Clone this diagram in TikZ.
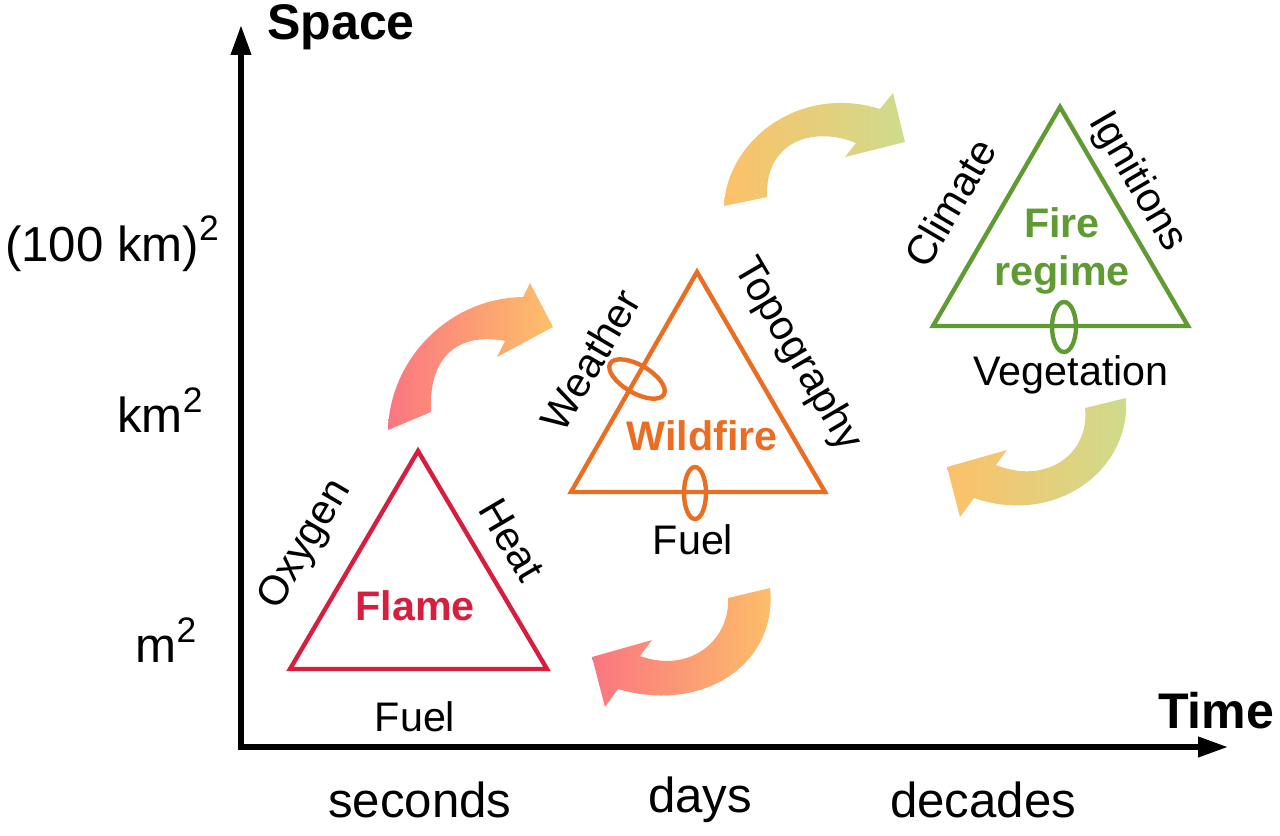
\documentclass[tikz,border=0pt]{standalone}
\usepackage{fontspec}
\setmainfont{Liberation Sans}
\usepackage{tikz}
\usetikzlibrary{arrows.meta}

\definecolor{flamered}{RGB}{214,30,62}
\definecolor{wildorange}{RGB}{233,110,35}
\definecolor{regimegreen}{RGB}{95,155,50}
\definecolor{arrred}{RGB}{250,118,128}
\definecolor{arrorange}{RGB}{253,192,105}
\definecolor{arryellow}{RGB}{250,230,135}
\definecolor{arrgreen}{RGB}{206,220,140}

\newcommand{\sqr}{\raisebox{0.42em}{\scalebox{0.72}{2}}}

\begin{document}
\begin{tikzpicture}[x=0.02cm,y=-0.02cm,
  axis/.style={line width=3.2pt,{Triangle[length=17pt,width=11pt]}-{Triangle[length=17pt,width=11pt]}},
  ticklab/.style={font=\fontsize{28}{30}\selectfont,inner sep=0pt},
  axlab/.style={font=\fontsize{28.5}{30}\selectfont\bfseries,inner sep=0pt},
  sidelab/.style={font=\fontsize{23.5}{26}\selectfont,inner sep=0pt},
  triname/.style={font=\fontsize{23.5}{27}\selectfont\bfseries,inner sep=0pt,align=center},
  tri/.style={line width=2.5pt},
]
  \useasboundingbox (0,0) rectangle (1280,835);

  \coordinate (ytip) at (241,25);
  \coordinate (origin) at (241,747);
  \coordinate (xtip) at (1228,747);
  \draw[axis] (ytip) -- (origin) -- (xtip);

  \node[axlab] (space) at (341,27) {Space};
  \node[axlab] (time) at (1216,711) {Time};
  \node[ticklab] (sz1) at (112,244) {(100 km)\sqr};
  \node[ticklab] (sz2) at (160,410) {km\sqr};
  \node[ticklab] (sz3) at (166,640) {m\sqr};
  \node[ticklab] (t1) at (420,800) {seconds};
  \node[ticklab] (t2) at (700,800) {days};
  \node[ticklab] (t3) at (983,800) {decades};

  \shade[left color=arrred,right color=arrorange] (388,430) .. controls (390,358) and (450,298) .. (523,297) -- (530,283) -- (553,327) -- (497,357) -- (505,341) .. controls (465,333) and (428,350) .. (431,412) -- cycle;
  \shade[left color=arrred,right color=arrorange] (770,588) .. controls (778,664) and (703,714) .. (618,689) -- (605,707) -- (592,657) -- (652,640) -- (640,656) .. controls (690,674) and (730,640) .. (728,598) -- cycle;
  \shade[left color=arrorange,middle color=arryellow,right color=arrgreen] (724,206) .. controls (727,140) and (800,84) .. (880,109) -- (893,93) -- (905,142) -- (845,157) -- (856,143) .. controls (815,126) and (765,140) .. (767,197) -- cycle;
  \shade[left color=arrorange,middle color=arryellow,right color=arrgreen] (1126,398) .. controls (1131,471) and (1055,526) .. (974,498) -- (960,517) -- (947,467) -- (1007,450) -- (996,465) .. controls (1045,485) and (1090,455) .. (1085,408) -- cycle;

  \coordinate (fa) at (418,451);
  \coordinate (fb) at (290,669);
  \coordinate (fc) at (547,669);
  \draw[tri,flamered] (fa) -- (fb) -- (fc) -- cycle;
  \node[triname,text=flamered] (flame) at (415,606) {Flame};
  \node[sidelab,rotate=59.6] (oxygen) at (306,545) {Oxygen};
  \node[sidelab,rotate=-59.6] (heat) at (512,540) {Heat};
  \node[sidelab] (fuel1) at (415,717) {Fuel};

  \coordinate (wa) at (697,272);
  \coordinate (wb) at (571,492);
  \coordinate (wc) at (825,492);
  \draw[tri,wildorange] (wa) -- (wb) -- (wc) -- cycle;
  \draw[tri,wildorange,rotate around={-30:(637,379)}] (637,379) ellipse [x radius=31,y radius=14];
  \draw[tri,wildorange] (695,493) ellipse [x radius=11,y radius=26];
  \node[triname,text=wildorange] (wildfire) at (702,436) {Wildfire};
  \node[sidelab,rotate=59.6] (weather) at (590,360) {Weather};
  \node[sidelab,rotate=-59.6] (topo) at (797,355) {Topography};
  \node[sidelab] (fuel2) at (693,540) {Fuel};

  \coordinate (ra) at (1060,107);
  \coordinate (rb) at (933,326);
  \coordinate (rc) at (1188,326);
  \draw[tri,regimegreen] (ra) -- (rb) -- (rc) -- cycle;
  \draw[tri,regimegreen] (1064,327) ellipse [x radius=12,y radius=25];
  \node[triname,text=regimegreen] (regime) at (1062,251) {Fire\\regime};
  \node[sidelab,rotate=59.6] (climate) at (950,203) {Climate};
  \node[sidelab,rotate=-59.6] (ignit) at (1137,182) {Ignitions};
  \node[sidelab] (veg) at (1071,375) {Vegetation};
\end{tikzpicture}
\end{document}
